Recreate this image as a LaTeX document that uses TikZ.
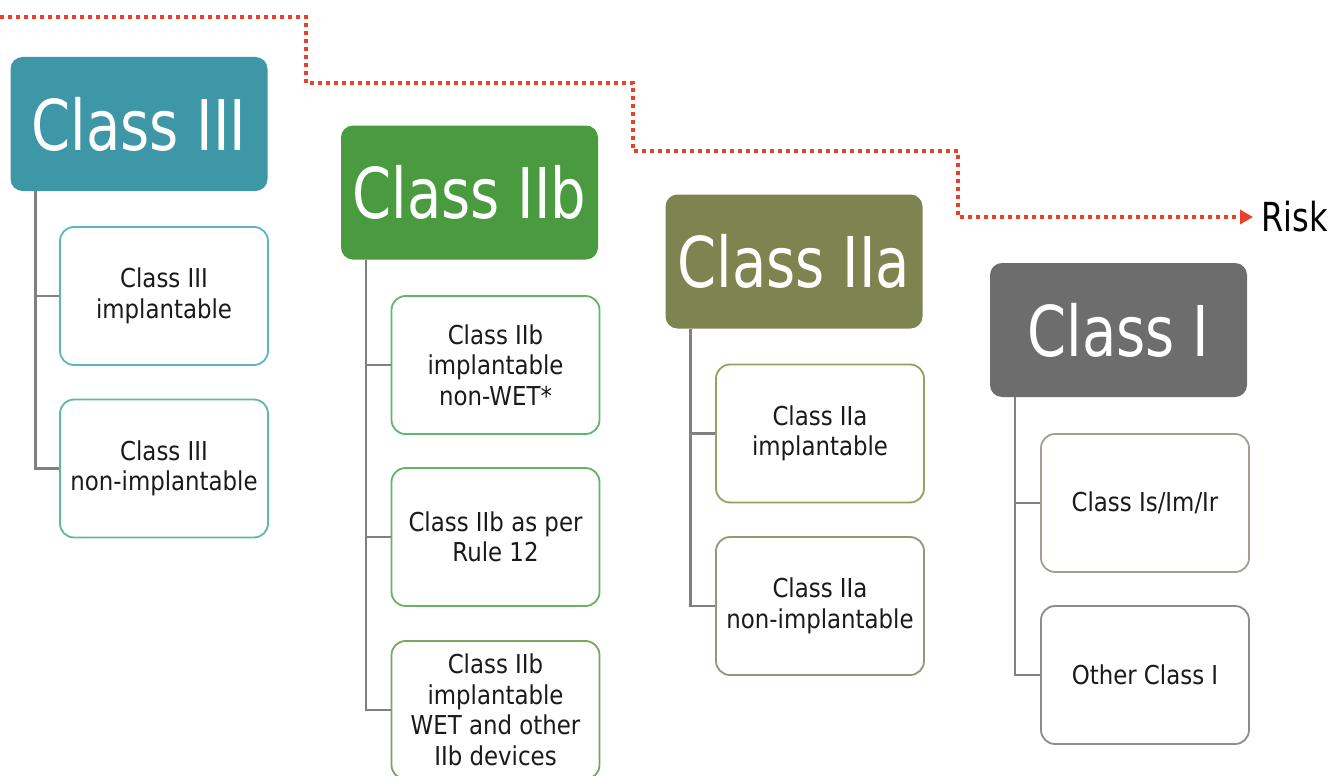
\documentclass[tikz,border=0pt]{standalone}
\usepackage{fontspec}
\setmainfont{DejaVu Sans}
\newfontfamily\hdfont[FakeStretch=0.8]{DejaVu Sans}
\newfontfamily\chfont[FakeStretch=0.88]{DejaVu Sans}
\usetikzlibrary{arrows.meta}
\definecolor{hIII}{HTML}{3D97A6}
\definecolor{hIIb}{HTML}{4A9A3F}
\definecolor{hIIa}{HTML}{7E8450}
\definecolor{hI}{HTML}{6D6D6D}
\definecolor{bIIIa}{HTML}{5CB5C5}
\definecolor{bIIIb}{HTML}{5DBB9A}
\definecolor{bIIba}{HTML}{5DB86B}
\definecolor{bIIbb}{HTML}{65B363}
\definecolor{bIIbc}{HTML}{7AA85A}
\definecolor{bIIaa}{HTML}{98A060}
\definecolor{bIIab}{HTML}{9A9575}
\definecolor{bIa}{HTML}{A59C95}
\definecolor{bIb}{HTML}{8C8C8C}
\definecolor{riskred}{HTML}{E8412C}
\definecolor{conn}{HTML}{808080}
\definecolor{txt}{HTML}{1A1A1A}
\tikzset{
  header/.style={rectangle, rounded corners=12pt, minimum width=257pt, minimum height=134pt,
    inner sep=0pt, text=white, font=\hdfont\fontsize{70}{74}\selectfont},
  child/.style={rectangle, rounded corners=14pt, draw=#1, line width=1.8pt, fill=white,
    minimum width=208pt, minimum height=138pt, inner sep=0pt, align=center, text=txt,
    font=\chfont\fontsize{26}{30.5}\selectfont},
  link/.style={draw=conn, line width=2.4pt},
  riskline/.style={draw=riskred, line width=3.5pt, dash pattern=on 4pt off 4pt,
    -{Triangle[length=13pt,width=14pt]}}
}
\begin{document}
\begin{tikzpicture}[x=1pt,y=-1pt]
\useasboundingbox (0,0) rectangle (1334,776);

% risk arrow
\coordinate (rs) at (0,17);
\node[anchor=west, inner sep=0pt, text=black, font=\hdfont\fontsize{40}{42}\selectfont] (risk) at (1261,217) {Risk};
\draw[riskline] (rs) -- (306,17) -- (306,83) -- (633,83) -- (633,151) -- (958,151) -- (958,217) -- ([xshift=-8pt]risk.west);

% headers
\node[header, fill=hIII] (h3) at (139,124) {Class III};
\node[header, fill=hIIb] (h2b) at (469.5,192.5) {Class IIb};
\node[header, fill=hIIa] (h2a) at (794,261.5) {Class IIa};
\node[header, fill=hI] (h1) at (1118.5,330) {Class I};

% children
\node[child=bIIIa] (c31) at (164,296) {Class III\\implantable};
\node[child=bIIIb] (c32) at (164,468.5) {Class III\\non-implantable};

\node[child=bIIba] (c2b1) at (495.5,365) {Class IIb\\implantable\\non-WET*};
\node[child=bIIbb] (c2b2) at (495.5,537) {Class IIb as per\\Rule 12};
\node[child=bIIbc] (c2b3) at (495.5,710) {Class IIb\\implantable\\WET and other\\IIb devices};

\node[child=bIIaa] (c2a1) at (820,433.5) {Class IIa\\implantable};
\node[child=bIIab] (c2a2) at (820,606) {Class IIa\\non-implantable};

\node[child=bIa] (c11) at (1145,503) {Class Is/Im/Ir};
\node[child=bIb] (c12) at (1145,675) {Other Class I};

% connectors
\draw[link] ([xshift=25pt]h3.south west) |- (c31.west);
\draw[link] ([xshift=25pt]h3.south west) |- (c32.west);
\draw[link] ([xshift=25pt]h2b.south west) |- (c2b1.west);
\draw[link] ([xshift=25pt]h2b.south west) |- (c2b2.west);
\draw[link] ([xshift=25pt]h2b.south west) |- (c2b3.west);
\draw[link] ([xshift=25pt]h2a.south west) |- (c2a1.west);
\draw[link] ([xshift=25pt]h2a.south west) |- (c2a2.west);
\draw[link] ([xshift=25pt]h1.south west) |- (c11.west);
\draw[link] ([xshift=25pt]h1.south west) |- (c12.west);
\end{tikzpicture}
\end{document}
